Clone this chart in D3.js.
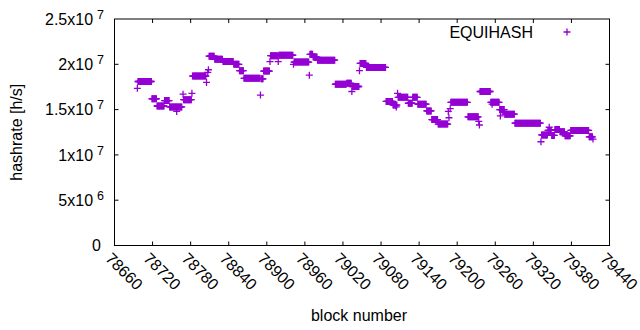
<!DOCTYPE html>
<html>
<head>
<meta charset="utf-8">
<script src="https://cdn.jsdelivr.net/npm/d3@7"></script>
<style>
  body { margin: 0; background: #fff; }
  text { font-family: "Liberation Sans", Arial, sans-serif; font-size: 16px; fill: #000; }
</style>
</head>
<body>
<svg id="chart" width="640" height="330"></svg>
<script>
// runs of blocks sharing the same hashrate (millions of h/s)
const blockFrom = [78696, 78697, 78719, 78727, 78739, 78747, 78758, 78768, 78769, 78782, 78783, 78805, 78807, 78808,
  78809, 78818, 78831, 78848, 78857, 78864, 78890, 78891, 78895, 78905, 78906, 78918, 78919, 78942, 78943,
  78967, 78968, 78973, 78980, 79008, 79026, 79034, 79035, 79046, 79047, 79057, 79088, 79099, 79104, 79106,
  79107, 79123, 79130, 79138, 79152, 79160, 79170, 79186, 79187, 79189, 79190, 79217, 79234, 79235, 79236,
  79253, 79255, 79267, 79268, 79275, 79291, 79332, 79333, 79343, 79345, 79349, 79354, 79362, 79370, 79379,
  79408, 79414];
const blockTo = [78696, 78718, 78726, 78738, 78746, 78766, 78758, 78768, 78781, 78782, 78804, 78805, 78807, 78808,
  78817, 78830, 78847, 78856, 78863, 78889, 78890, 78894, 78904, 78905, 78917, 78918, 78941, 78942, 78966,
  78967, 78972, 78979, 79007, 79025, 79033, 79034, 79045, 79046, 79056, 79087, 79098, 79105, 79104, 79106,
  79122, 79129, 79137, 79151, 79159, 79169, 79185, 79186, 79187, 79189, 79216, 79233, 79234, 79235, 79252,
  79266, 79255, 79274, 79268, 79290, 79331, 79332, 79342, 79348, 79345, 79353, 79361, 79369, 79378, 79407,
  79413, 79414];
const hashrateM = [17.35, 18.1, 16.2, 15.4, 16.0, 15.3, 14.8, 16.7, 16.1, 16.8, 18.7, 18.0, 19.1, 19.4,
  20.9, 20.55, 20.3, 20.0, 19.3, 18.45, 16.6, 18.4, 19.25, 20.3, 20.95, 20.3, 21.0, 20.0, 20.25,
  18.8, 21.1, 20.8, 20.45, 17.8, 17.9, 17.0, 17.55, 19.3, 20.1, 19.65, 15.9, 15.5, 15.3, 16.8,
  16.35, 15.7, 16.35, 15.6, 14.85, 13.9, 13.4, 14.8, 14.1, 15.1, 15.8, 14.2, 13.7, 13.3, 17.0,
  15.8, 15.6, 15.0, 14.3, 14.5, 13.5, 11.45, 12.2, 12.7, 13.05, 12.15, 12.8, 12.55, 12.1, 12.7,
  12.0, 11.75];

const xTickValues = [78660, 78720, 78780, 78840, 78900, 78960, 79020, 79080, 79140, 79200, 79260, 79320, 79380, 79440];
const yTickValues = [0, 5e6, 1e7, 1.5e7, 2e7, 2.5e7];
const yTickMantissa = ["0", "5", "1", "1.5", "2", "2.5"];
const yTickExponent = [null, "6", "7", "7", "7", "7"];
const seriesName = "EQUIHASH";

const color = "#9400d3";
const plot = { left: 114.5, right: 609.5, top: 19, bottom: 245.5 };

const svg = d3.select("#chart");

const x = d3.scaleLinear().domain([78660, 79440]).range([plot.left, plot.right]);
const y = d3.scaleLinear().domain([0, 2.5e7]).range([plot.bottom, plot.top]);

// expand each run into one point per block
const points = [];
blockFrom.forEach((b0, i) => {
  for (let b = b0; b <= blockTo[i]; b++) points.push({ block: b, hashrate: hashrateM[i] * 1e6 });
});

// frame
svg.append("rect")
  .attr("x", plot.left).attr("y", plot.top)
  .attr("width", plot.right - plot.left).attr("height", plot.bottom - plot.top)
  .attr("fill", "none").attr("stroke", "#000").attr("stroke-width", 1);

// inward ticks on all four sides (gnuplot mirror style)
const tickLen = 4;
const tickG = svg.append("g").attr("stroke", "#000").attr("stroke-width", 1);
xTickValues.slice(1, -1).forEach(v => {
  tickG.append("line").attr("x1", x(v)).attr("x2", x(v)).attr("y1", plot.bottom).attr("y2", plot.bottom - tickLen);
  tickG.append("line").attr("x1", x(v)).attr("x2", x(v)).attr("y1", plot.top).attr("y2", plot.top + tickLen);
});
yTickValues.slice(1, -1).forEach(v => {
  tickG.append("line").attr("x1", plot.left).attr("x2", plot.left + tickLen).attr("y1", y(v)).attr("y2", y(v));
  tickG.append("line").attr("x1", plot.right).attr("x2", plot.right - tickLen).attr("y1", y(v)).attr("y2", y(v));
});

// x tick labels, rotated
svg.append("g").selectAll("text")
  .data(xTickValues)
  .join("text")
  .attr("transform", d => `translate(${x(d) - 6},${plot.bottom + 10}) rotate(45)`)
  .attr("dy", "0.35em")
  .text(d => d);

// y tick labels with superscript exponents
const yLab = svg.append("g").selectAll("text")
  .data(yTickValues)
  .join("text")
  .attr("x", (d, i) => yTickExponent[i] ? 104 : 101)
  .attr("y", d => y(d))
  .attr("dy", "0.35em")
  .attr("text-anchor", "end");
yLab.each(function(d, i) {
  const t = d3.select(this);
  if (!yTickExponent[i]) { t.text(yTickMantissa[i]); return; }
  t.append("tspan").text(yTickMantissa[i] + "x10");
  t.append("tspan").attr("dx", 4).attr("dy", -6).style("font-size", "12.5px").text(yTickExponent[i]);
});

// axis titles
svg.append("text")
  .attr("x", 359).attr("y", 321)
  .attr("text-anchor", "middle")
  .text("block number");
svg.append("text")
  .attr("transform", `translate(22,${(plot.top + plot.bottom) / 2}) rotate(-90)`)
  .attr("text-anchor", "middle")
  .text("hashrate [h/s]");

// points as '+' markers
const m = 3.5;
svg.append("g")
  .attr("stroke", color).attr("stroke-width", 1.3).attr("fill", "none")
  .selectAll("path")
  .data(points)
  .join("path")
  .attr("d", d => {
    const px = x(d.block), py = y(d.hashrate);
    return `M${px - m},${py}h${2 * m}M${px},${py - m}v${2 * m}`;
  });

// legend
svg.append("text")
  .attr("x", 533).attr("y", 32).attr("dy", "0.35em")
  .attr("text-anchor", "end")
  .text(seriesName);
svg.append("path")
  .attr("stroke", color).attr("stroke-width", 1.3)
  .attr("d", `M${567 - m},32h${2 * m}M567,${32 - m}v${2 * m}`);
</script>
</body>
</html>
